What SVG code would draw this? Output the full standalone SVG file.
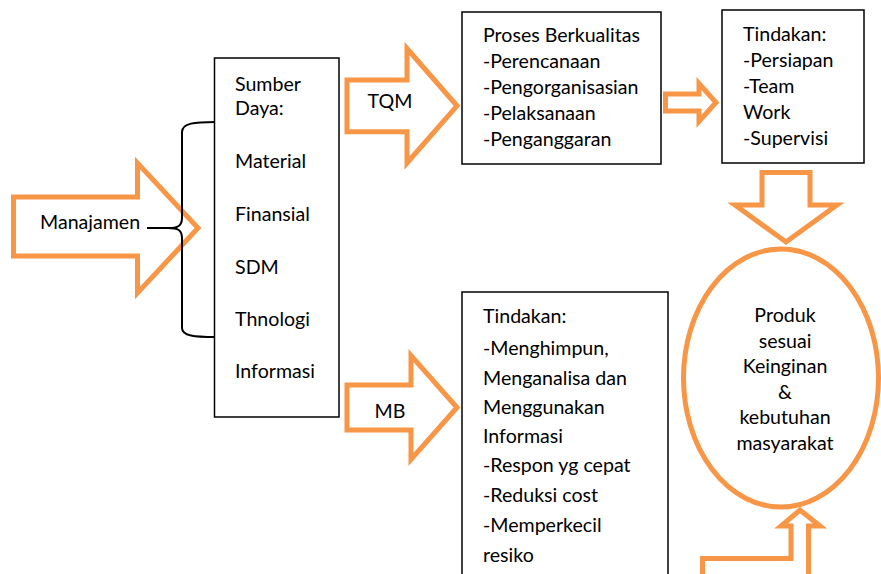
<svg xmlns="http://www.w3.org/2000/svg" width="881" height="574" viewBox="0 0 881 574">
<style>
.arrow{fill:#fff;stroke:#F79646;stroke-width:5;stroke-linejoin:miter}
.box{fill:#fff;stroke:#000;stroke-width:1.5}
.t{font-family:Lato,"Liberation Sans",sans-serif;font-size:19.6px;fill:#000}
.c{text-anchor:middle}
.brace{fill:none;stroke:#000;stroke-width:2}
</style>
<rect width="881" height="574" fill="#fff"/>
<g id="connectors">
<g id="arrow-manajamen">
<polygon class="arrow" points="13.5,197 137.5,197 137.5,163 198,228 137.5,293 137.5,256 13.5,256"/>
<text class="t" x="40" y="229">Manajamen</text>
</g>
<path id="brace" class="brace" d="M215,122 C195,122 182,123 182,132 L182,218 C182,226 178,228 168,228 L147,228 M168,228 C178,228 182,230 182,238 L182,328 C182,336 195,337 215,337"/>
<g id="arrow-tqm">
<polygon class="arrow" points="347,80 407,80 407,48.5 457,105.8 407,163 407,131.7 347,131.7"/>
<text class="t c" x="390" y="108">TQM</text>
</g>
<g id="arrow-mb">
<polygon class="arrow" points="347,385 411,385 411,355.5 457,407.5 411,459.5 411,430 347,430"/>
<text class="t c" x="390" y="417.5">MB</text>
</g>
<polygon id="arrow-small" class="arrow" points="665.5,94 699,94 699,83.5 716,102.5 699,121.5 699,111 665.5,111"/>
<polygon id="arrow-down" class="arrow" points="762,172.5 810,172.5 810,205 837,205 786,242 735,205 762,205"/>
<polygon id="arrow-up" class="arrow" points="702.5,590 702.5,558.5 791,558.5 791,526 781,526 800,510 820,526 808.5,526 808.5,590"/>
</g>
<g id="sumber-daya">
<rect class="box" x="214.5" y="58" width="124.5" height="359"/>
<text class="t" x="235" y="91">Sumber</text>
<text class="t" x="235" y="115">Daya:</text>
<text class="t" x="235" y="168">Material</text>
<text class="t" x="235" y="221">Finansial</text>
<text class="t" x="235" y="274">SDM</text>
<text class="t" x="235" y="326">Thnologi</text>
<text class="t" x="235" y="378">Informasi</text>
</g>
<g id="proses">
<rect class="box" x="462" y="12" width="199" height="152"/>
<text class="t" x="483" y="42">Proses Berkualitas</text>
<text class="t" x="483" y="68">-Perencanaan</text>
<text class="t" x="483" y="94">-Pengorganisasian</text>
<text class="t" x="483" y="120">-Pelaksanaan</text>
<text class="t" x="483" y="146">-Penganggaran</text>
</g>
<g id="tindakan-atas">
<rect class="box" x="722" y="10" width="142" height="153"/>
<text class="t" x="743" y="41">Tindakan:</text>
<text class="t" x="743" y="67">-Persiapan</text>
<text class="t" x="743" y="93">-Team</text>
<text class="t" x="743" y="119">Work</text>
<text class="t" x="743" y="145">-Supervisi</text>
</g>
<g id="tindakan-bawah">
<rect class="box" x="462" y="292" width="206" height="300"/>
<text class="t" x="483" y="323">Tindakan:</text>
<text class="t" x="483" y="355">-Menghimpun,</text>
<text class="t" x="483" y="385">Menganalisa dan</text>
<text class="t" x="483" y="414">Menggunakan</text>
<text class="t" x="483" y="443">Informasi</text>
<text class="t" x="483" y="472">-Respon yg cepat</text>
<text class="t" x="483" y="502">-Reduksi cost</text>
<text class="t" x="483" y="532">-Memperkecil</text>
<text class="t" x="483" y="562">resiko</text>
</g>
<g id="produk">
<ellipse cx="781" cy="378" rx="97.5" ry="129" fill="#fff" stroke="#F79646" stroke-width="5"/>
<text class="t c" x="785" y="322">Produk</text>
<text class="t c" x="785" y="347.5">sesuai</text>
<text class="t c" x="785" y="373">Keinginan</text>
<text class="t c" x="785" y="398.5">&amp;</text>
<text class="t c" x="785" y="424">kebutuhan</text>
<text class="t c" x="785" y="449.5">masyarakat</text>
</g>
</svg>
